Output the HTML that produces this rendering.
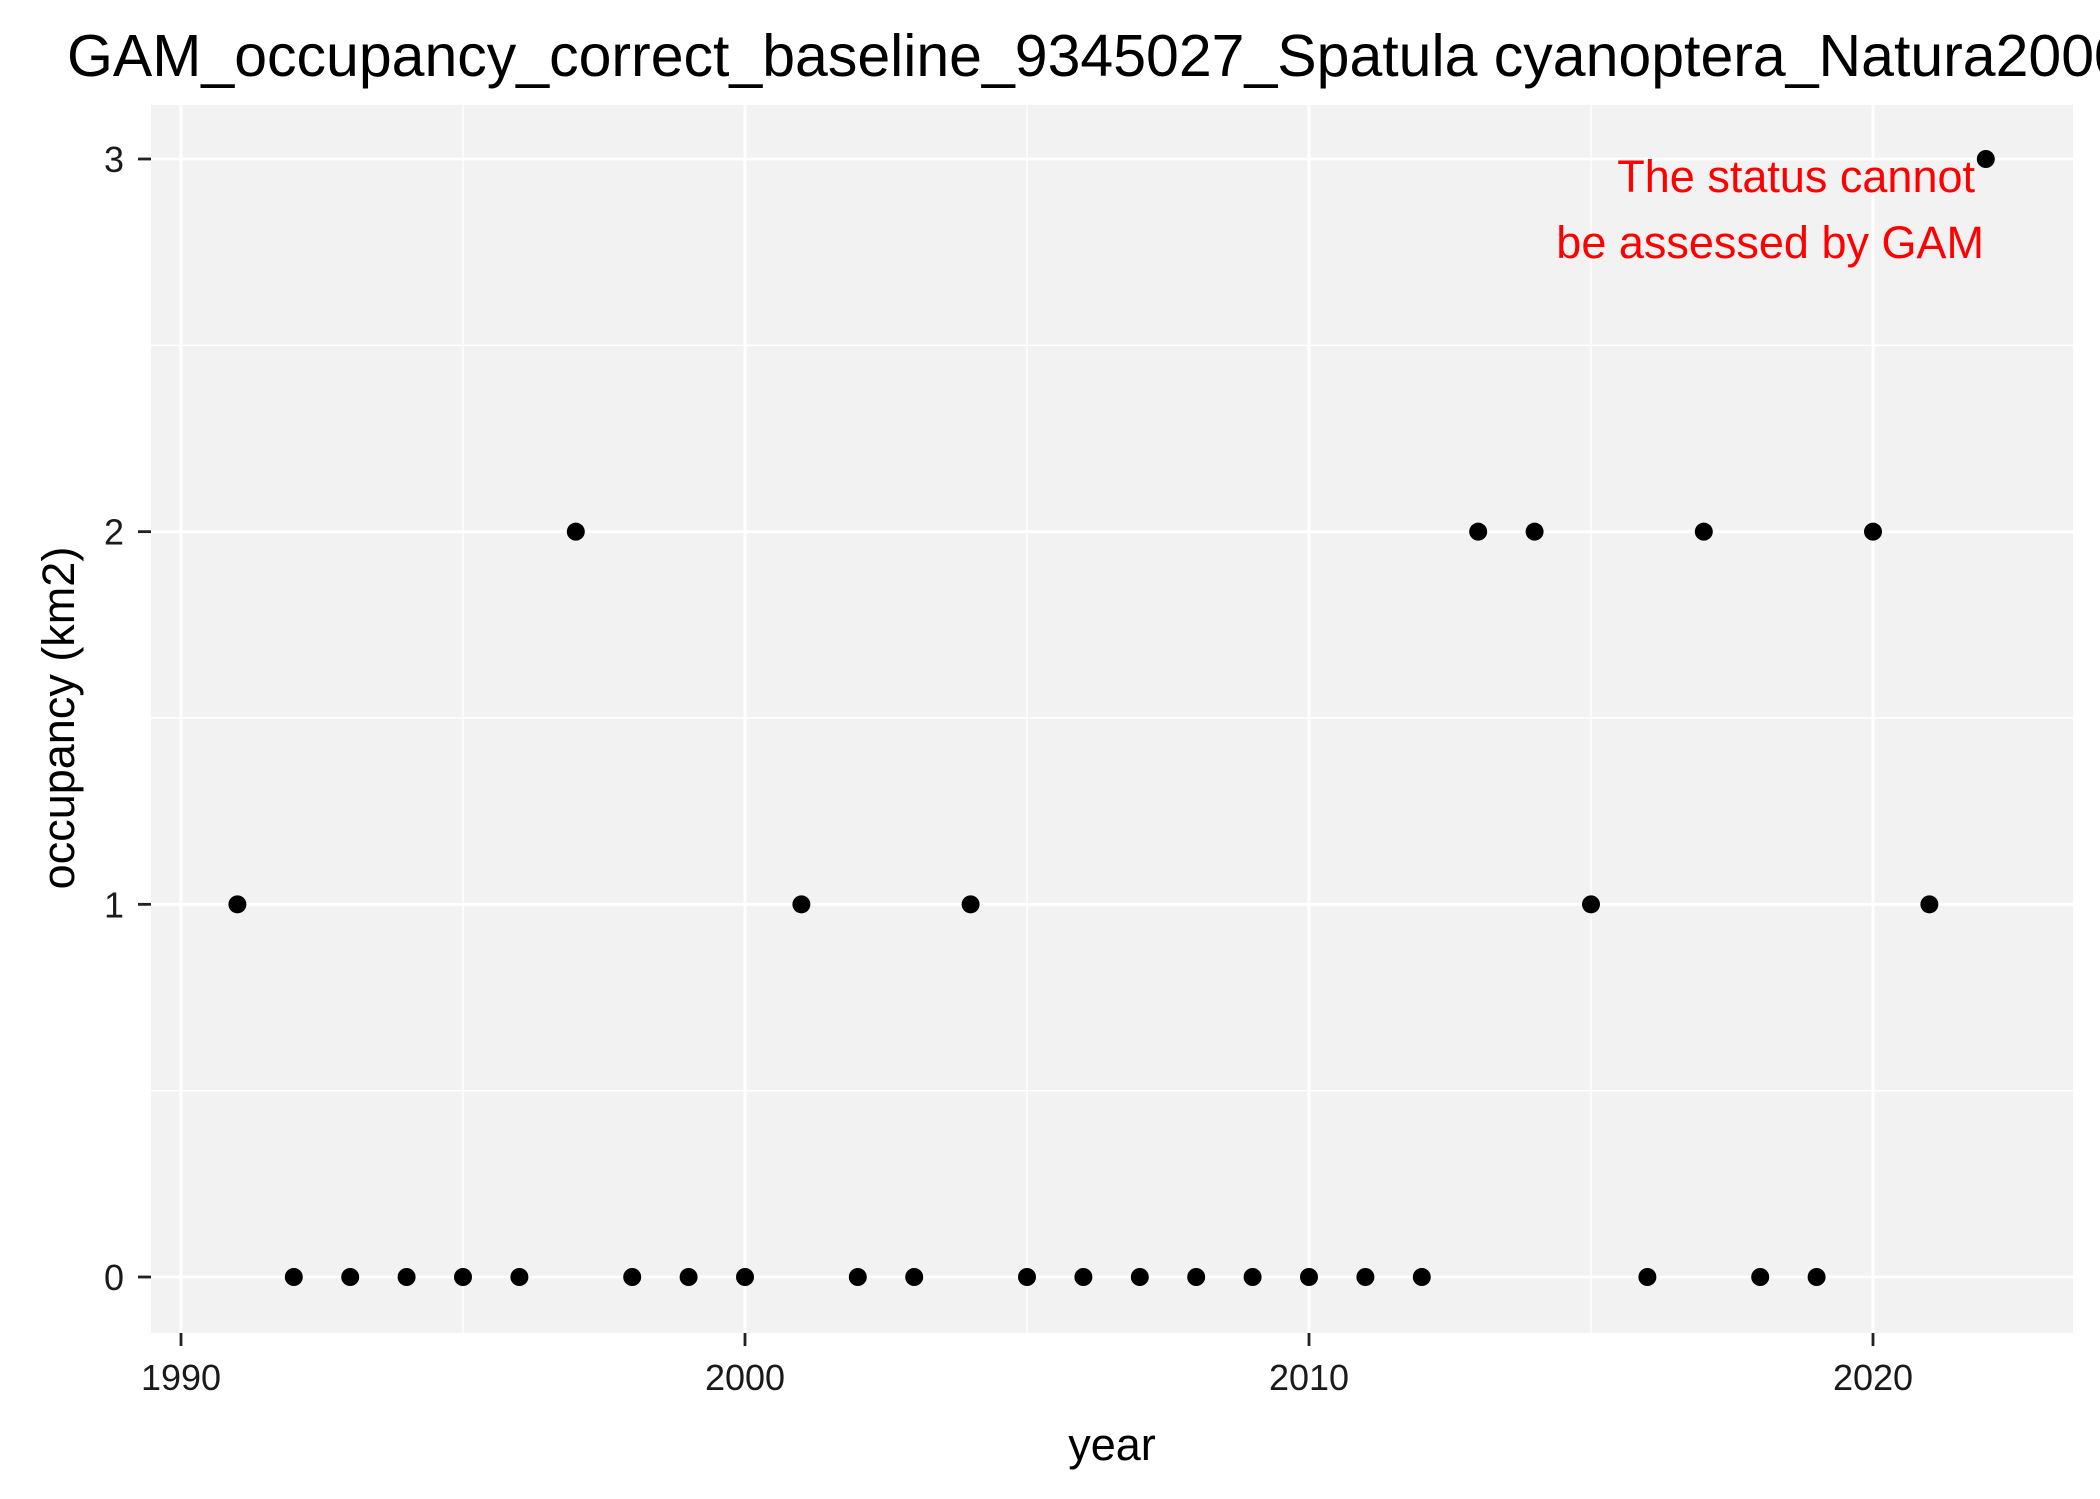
<!DOCTYPE html>
<html><head><meta charset="utf-8"><style>body{margin:0;background:#fff}svg{display:block}text{font-family:"Liberation Sans",Arial,sans-serif}</style></head>
<body>
<svg id="c" width="2100" height="1499" viewBox="0 0 2100 1499" xmlns="http://www.w3.org/2000/svg">
<text x="67" y="76" font-size="59" fill="#000">GAM_occupancy_correct_baseline_9345027_Spatula cyanoptera_Natura2000</text>
<rect x="151" y="105" width="1922" height="1228" fill="#f2f2f2"/>
<g id="grid"></g>
<g id="axes"></g>
<g id="pts"></g>
<text x="1975" y="192" font-size="45" fill="#ff0000" text-anchor="end">The status cannot</text>
<text x="1984" y="258" font-size="45" fill="#ff0000" text-anchor="end">be assessed by GAM</text>
<text x="1112" y="1460" font-size="45" text-anchor="middle">year</text>
<text transform="translate(74,718) rotate(-90)" font-size="45" text-anchor="middle">occupancy (km2)</text>
</svg>
<script>
const years=[1991,1992,1993,1994,1995,1996,1997,1998,1999,2000,2001,2002,2003,2004,2005,2006,2007,2008,2009,2010,2011,2012,2013,2014,2015,2016,2017,2018,2019,2020,2021,2022];
const occupancy=[1,0,0,0,0,0,2,0,0,0,1,0,0,1,0,0,0,0,0,0,0,0,2,2,1,0,2,0,0,2,1,3];
const xTicks=[1990,2000,2010,2020];
const xMinor=[1995,2005,2015];
const yTicks=[0,1,2,3];
const yMinor=[0.5,1.5,2.5];
const NS="http://www.w3.org/2000/svg";
function xs(v){return 181+(v-1990)*(1873-181)/30;}
function ys(v){return 1277-v*(1277-159)/3;}
function mk(t,a,p){const e=document.createElementNS(NS,t);for(const k in a)e.setAttribute(k,a[k]);p.appendChild(e);return e;}
const g=document.getElementById('grid'),ax=document.getElementById('axes'),pts=document.getElementById('pts');
const T=105,B=1333;
yMinor.forEach(v=>{const l=mk('line',{x1:151,x2:2073,y1:ys(v),y2:ys(v),stroke:'#fff','stroke-width':1.4},g);

});
xMinor.forEach(v=>{const l=mk('line',{x1:xs(v),x2:xs(v),y1:T,y2:B,stroke:'#fff','stroke-width':1.4},g);

});
yTicks.forEach(v=>{const l=mk('line',{x1:151,x2:2073,y1:ys(v),y2:ys(v),stroke:'#fff','stroke-width':2.8},g);


const t=mk('line',{x1:138,x2:151,y1:ys(v),y2:ys(v),stroke:'#222','stroke-width':2.8},ax);


const tx=mk('text',{x:124,y:ys(v)+13,'font-size':36,'text-anchor':'end',fill:'#1a1a1a'},ax);tx.textContent=v;

});
xTicks.forEach(v=>{const l=mk('line',{x1:xs(v),x2:xs(v),y1:T,y2:B,stroke:'#fff','stroke-width':2.8},g);


const t=mk('line',{x1:xs(v),x2:xs(v),y1:B,y2:B+13,stroke:'#222','stroke-width':2.8},ax);


const tx=mk('text',{x:xs(v),y:1390,'font-size':36,'text-anchor':'middle',fill:'#1a1a1a'},ax);tx.textContent=v;

});
years.forEach((y,i)=>{const c=mk('circle',{cx:xs(y),cy:ys(occupancy[i]),r:9,fill:'#000'},pts);

});
</script>
</body></html>
